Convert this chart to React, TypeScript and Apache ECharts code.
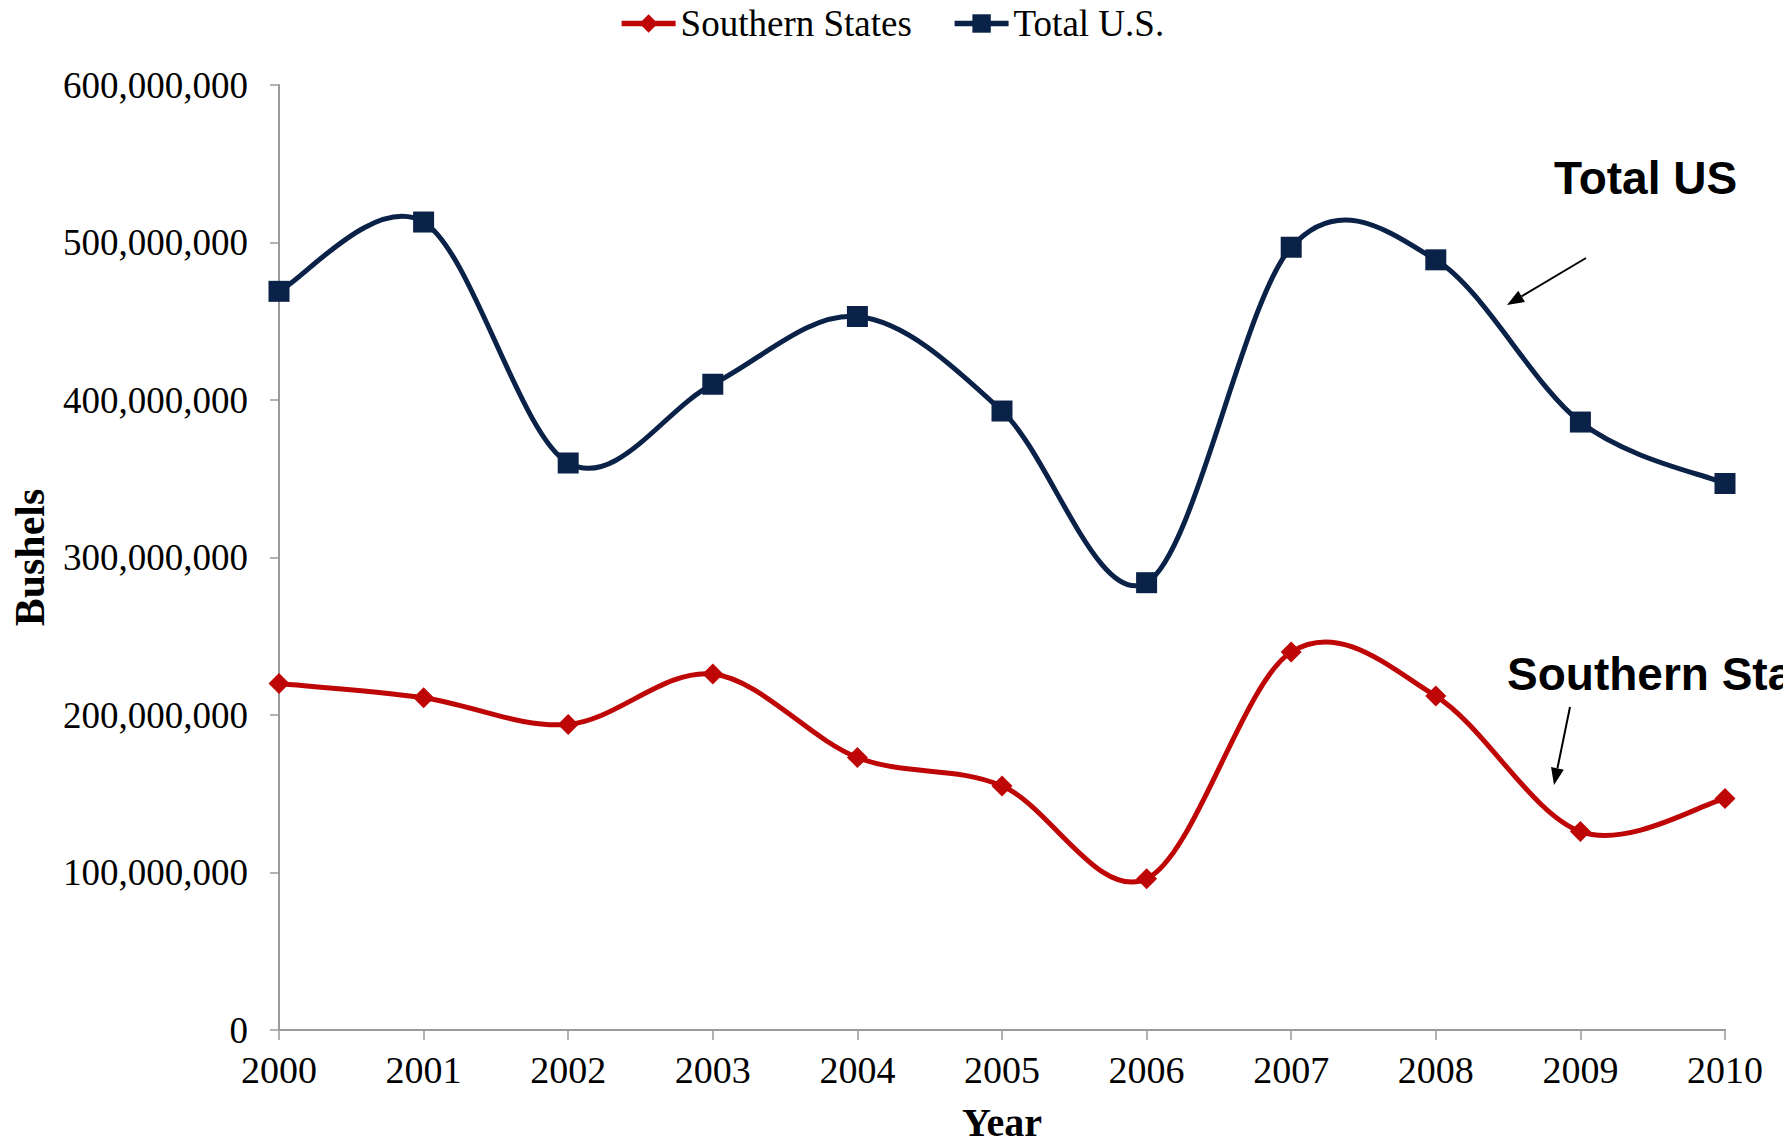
import React, { useEffect, useRef } from "react";
import * as echarts from "echarts";

const years = ["2000", "2001", "2002", "2003", "2004", "2005", "2006", "2007", "2008", "2009", "2010"];
const southernStates = [220000000, 211000000, 194000000, 226000000, 173000000, 155000000, 96000000, 240000000, 212000000, 126000000, 147000000];
const totalUS = [469000000, 513000000, 360000000, 410000000, 453000000, 393000000, 284000000, 497000000, 489000000, 386000000, 347000000];

const RED = "#BE0606";
const NAVY = "#0A2148";
const SERIF = "'Liberation Serif', 'Times New Roman', serif";
const SANS = "'Liberation Sans', Arial, sans-serif";
const LINE_W = 5;

function arrow(x1: number, y1: number, x2: number, y2: number) {
  const dx = x2 - x1, dy = y2 - y1;
  const len = Math.hypot(dx, dy);
  const ux = dx / len, uy = dy / len;
  const hl = 17, hw = 6.5;
  const bx = x2 - hl * ux, by = y2 - hl * uy;
  const nx = -uy, ny = ux;
  return [
    { type: "line", shape: { x1, y1, x2: bx, y2: by }, style: { stroke: "#000", lineWidth: 2 } },
    {
      type: "polygon",
      shape: { points: [[x2, y2], [bx + hw * nx, by + hw * ny], [bx - hw * nx, by - hw * ny]] },
      style: { fill: "#000" },
    },
  ];
}

// Excel-style smoothed line (Catmull-Rom segments) drawn through the chart's scales
function smoothCurve(vals: number[], color: string) {
  return {
    type: "custom",
    silent: true,
    z: 2,
    data: vals.map((v, i) => [i, v]),
    encode: { x: 0, y: 1 },
    renderItem: (params: any, api: any) => {
      const i = params.dataIndex;
      const n = vals.length;
      if (i >= n - 1) return { type: "group", children: [] };
      const c = (k: number) => {
        const kk = Math.max(0, Math.min(n - 1, k));
        return api.coord([kk, vals[kk]]);
      };
      const p0 = c(i - 1), p1 = c(i), p2 = c(i + 1), p3 = c(i + 2);
      return {
        type: "bezierCurve",
        shape: {
          x1: p1[0],
          y1: p1[1],
          cpx1: p1[0] + (p2[0] - p0[0]) / 6,
          cpy1: p1[1] + (p2[1] - p0[1]) / 6,
          cpx2: p2[0] - (p3[0] - p1[0]) / 6,
          cpy2: p2[1] - (p3[1] - p1[1]) / 6,
          x2: p2[0],
          y2: p2[1],
        },
        style: { stroke: color, lineWidth: LINE_W, fill: "none", lineCap: "round" },
      };
    },
  };
}

export default function App() {
  const ref = useRef<HTMLDivElement>(null);
  useEffect(() => {
    if (!ref.current) return;
    const chart = echarts.init(ref.current, undefined, { renderer: "svg" });
    chart.setOption({
      animation: false,
      backgroundColor: "#fff",
      legend: {
        top: 0,
        left: "center",
        itemWidth: 54,
        itemHeight: 23,
        itemGap: 40,
        lineStyle: { opacity: 1, width: 5.5 },
        textStyle: { fontFamily: SERIF, fontSize: 37, color: "#000" },
        data: ["Southern States", "Total U.S."],
      },
      grid: { left: 279, right: 58, top: 85, bottom: 116, containLabel: false, outerBoundsMode: "none" },
      xAxis: {
        type: "category",
        data: years,
        boundaryGap: false,
        name: "Year",
        nameLocation: "middle",
        nameGap: 72,
        nameTextStyle: { fontFamily: SERIF, fontSize: 40, fontWeight: "bold", color: "#000" },
        axisLine: { lineStyle: { color: "#9a9a9a", width: 2 } },
        axisTick: { show: true, alignWithLabel: true, length: 10, lineStyle: { color: "#9a9a9a", width: 1.5 } },
        axisLabel: { fontFamily: SERIF, fontSize: 38, color: "#000", margin: 21 },
        splitLine: { show: false },
      },
      yAxis: {
        type: "value",
        min: 0,
        max: 600000000,
        interval: 100000000,
        name: "Bushels",
        nameLocation: "middle",
        nameGap: 228,
        nameRotate: 90,
        nameTextStyle: { fontFamily: SERIF, fontSize: 42, fontWeight: "bold", color: "#000" },
        axisLine: { show: true, lineStyle: { color: "#9a9a9a", width: 2 } },
        axisTick: { show: true, length: 9, lineStyle: { color: "#9a9a9a", width: 1.5 } },
        axisLabel: {
          fontFamily: SERIF,
          fontSize: 37,
          color: "#000",
          margin: 31,
          formatter: (v: number) => v.toLocaleString("en-US"),
        },
        splitLine: { show: false },
      },
      series: [
        {
          name: "Southern States",
          type: "line",
          data: southernStates,
          symbol: "diamond",
          symbolSize: 21,
          lineStyle: { color: RED, width: LINE_W, opacity: 0 },
          itemStyle: { color: RED },
          z: 3,
        },
        {
          name: "Total U.S.",
          type: "line",
          data: totalUS,
          symbol: "rect",
          symbolSize: 21,
          lineStyle: { color: NAVY, width: LINE_W, opacity: 0 },
          itemStyle: { color: NAVY },
          z: 3,
        },
        smoothCurve(southernStates, RED),
        smoothCurve(totalUS, NAVY),
      ],
      graphic: [
        {
          type: "text",
          left: 1554,
          top: 155,
          style: { text: "Total US", fontFamily: SANS, fontSize: 46, fontWeight: "bold", fill: "#000" },
        },
        {
          type: "text",
          left: 1507,
          top: 651,
          style: { text: "Southern States", fontFamily: SANS, fontSize: 46, fontWeight: "bold", fill: "#000" },
        },
        ...arrow(1586, 258, 1507, 305),
        ...arrow(1570, 707, 1554, 785),
      ],
    });
    return () => chart.dispose();
  }, []);
  return (
    <div
      ref={ref}
      style={{ position: "fixed", left: 0, top: 0, width: 1783, height: 1146, background: "#fff" }}
    />
  );
}
